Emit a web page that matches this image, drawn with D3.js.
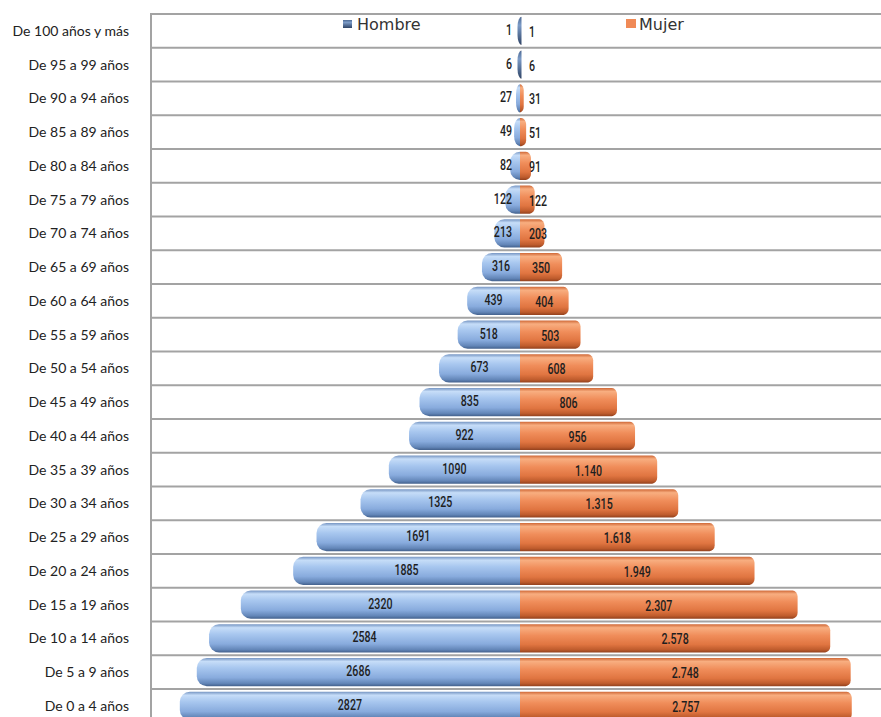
<!DOCTYPE html>
<html><head><meta charset="utf-8">
<script src="https://cdn.jsdelivr.net/npm/d3@7"></script>
<style>
html,body{margin:0;padding:0;background:#fff;}
svg{display:block;}
</style></head>
<body>
<svg id="chart" width="881" height="717"></svg>
<script>
const categories = ["De 100 años y más","De 95 a 99 años","De 90 a 94 años","De 85 a 89 años","De 80 a 84 años","De 75 a 79 años","De 70 a 74 años","De 65 a 69 años","De 60 a 64 años","De 55 a 59 años","De 50 a 54 años","De 45 a 49 años","De 40 a 44 años","De 35 a 39 años","De 30 a 34 años","De 25 a 29 años","De 20 a 24 años","De 15 a 19 años","De 10 a 14 años","De 5 a 9 años","De 0 a 4 años"];
const hombre = [1,6,27,49,82,122,213,316,439,518,673,835,922,1090,1325,1691,1885,2320,2584,2686,2827];
const mujer  = [1,6,31,51,91,122,203,350,404,503,608,806,956,1140,1315,1618,1949,2307,2578,2748,2757];
const seriesNames = ["Hombre","Mujer"];

const svg = d3.select("#chart");
const plotLeft = 151, plotTop = 14, plotRight = 881, rowH = 33.75;
const plotBottom = plotTop + rowH * categories.length;

const y = d3.scaleBand().domain(categories).range([plotTop, plotBottom]).paddingInner(0.17).paddingOuter(0.085);
const x = d3.scaleLinear().domain([-3000, 3000]).range([520 - 361, 520 + 361]);
const x0 = x(0);

const defs = svg.append("defs");
const gb = defs.append("linearGradient").attr("id","gBlue").attr("x1",0).attr("y1",0).attr("x2",0).attr("y2",1);
[[0,"#7897c4"],[0.12,"#c6ddf8"],[0.35,"#a8c7ef"],[0.7,"#88abdd"],[0.9,"#6386b8"],[1,"#44628e"]].forEach(s=>gb.append("stop").attr("offset",s[0]).attr("stop-color",s[1]));
const go = defs.append("linearGradient").attr("id","gOrange").attr("x1",0).attr("y1",0).attr("x2",0).attr("y2",1);
[[0,"#d06a39"],[0.12,"#f8ae80"],[0.4,"#f08d5a"],[0.72,"#e07541"],[0.9,"#bf5c2d"],[1,"#94421e"]].forEach(s=>go.append("stop").attr("offset",s[0]).attr("stop-color",s[1]));
const gd = defs.append("linearGradient").attr("id","gDark").attr("x1",0).attr("y1",0).attr("x2",0).attr("y2",1);
[[0,"#4d6a94"],[0.3,"#7d9cc8"],[1,"#2f4466"]].forEach(s=>gd.append("stop").attr("offset",s[0]).attr("stop-color",s[1]));

// plot border + row lines
const grid = svg.append("g");
grid.selectAll("line.row").data(d3.range(categories.length + 1)).join("line")
  .attr("x1", plotLeft).attr("x2", plotRight)
  .attr("y1", i => plotTop + i * rowH).attr("y2", i => plotTop + i * rowH)
  .attr("stroke", "#a3a3a3").attr("stroke-width", 2);
grid.append("line").attr("x1", plotLeft).attr("x2", plotLeft).attr("y1", plotTop - 1).attr("y2", plotBottom)
  .attr("stroke", "#a3a3a3").attr("stroke-width", 2);

// category labels
svg.append("g").selectAll("text").data(categories).join("text")
  .attr("x", 129).attr("y", d => y(d) + y.bandwidth()/2)
  .attr("dy", "0.35em").attr("text-anchor", "end")
  .attr("font-family", "Lato, 'Open Sans', sans-serif").attr("font-size", 14).attr("fill", "#222")
  .text(d => d);

function leftBar(xl, xr, yt, h){
  const w = Math.max(xr - xl, 4);
  xl = xr - w;
  const r = Math.min(10, w), ry = Math.min(10, h/2);
  return `M${xr},${yt} L${xl+r},${yt} A${r},${ry} 0 0 0 ${xl},${yt+ry} L${xl},${yt+h-ry} A${r},${ry} 0 0 0 ${xl+r},${yt+h} L${xr},${yt+h} Z`;
}
function rightBar(xl, xr, yt, h){
  const w = Math.max(xr - xl, 1);
  xr = xl + w;
  const r = Math.min(5, w), ry = Math.min(6, h/2);
  return `M${xl},${yt} L${xr-r},${yt} A${r},${ry} 0 0 1 ${xr},${yt+ry} L${xr},${yt+h-ry} A${r},${ry} 0 0 1 ${xr-r},${yt+h} L${xl},${yt+h} Z`;
}

const rowsH = categories.map((c,i)=>({c, v: hombre[i]}));
const rowsM = categories.map((c,i)=>({c, v: mujer[i]}));

svg.append("g").selectAll("path").data(rowsM).join("path")
  .attr("d", d => rightBar(x0, x(d.v), y(d.c), y.bandwidth()))
  .attr("fill", "url(#gOrange)");
svg.append("g").selectAll("path").data(rowsH).join("path")
  .attr("d", d => leftBar(x(-d.v), x0 + (d.v < 20 ? 1.5 : 0), y(d.c), y.bandwidth()))
  .attr("fill", d => d.v < 20 ? "url(#gDark)" : "url(#gBlue)");

const fmtM = d3.formatLocale({decimal:",", thousands:".", grouping:[3], currency:["",""]}).format(",d");
const labelFont = "Roboto, 'Open Sans', sans-serif";
const sx = 0.76;

function placeLabels(sel, getX){
  sel.each(function(d){
    const w = this.getComputedTextLength() * sx;
    const px = getX(d, w);
    const py = y(d.c) + y.bandwidth()/2 + d.dy;
    d3.select(this).attr("transform", `translate(${px},${py}) scale(${sx},1)`);
  });
}

const lh = svg.append("g").selectAll("text").data(rowsH.map(d=>({...d, dy:-1}))).join("text")
  .attr("x", 0).attr("y", 0).attr("dy", "0.36em")
  .attr("font-family", labelFont).attr("font-size", 14).attr("font-weight", 500).attr("fill", "#1e1e1e")
  .attr("text-anchor", "middle")
  .text(d => String(d.v));
placeLabels(lh, (d, w) => Math.min((x(-d.v) + x0) / 2, x0 - 8 - w/2));

const lm = svg.append("g").selectAll("text").data(rowsM.map(d=>({...d, dy:1}))).join("text")
  .attr("x", 0).attr("y", 0).attr("dy", "0.36em")
  .attr("font-family", labelFont).attr("font-size", 14).attr("font-weight", 500).attr("fill", "#1e1e1e")
  .attr("text-anchor", "middle")
  .text(d => fmtM(d.v));
placeLabels(lm, (d, w) => Math.max((x(d.v) + x0) / 2, x0 + 9 + w/2));

// legend
const legend = svg.append("g");
legend.append("rect").attr("x", 343).attr("y", 20).attr("width", 9).attr("height", 8).attr("fill", "url(#gDark)");
legend.append("text").attr("x", 357).attr("y", 24).attr("dy","0.35em")
  .attr("font-family", "'DejaVu Sans', sans-serif").attr("font-size", 16).attr("fill", "#333").text(seriesNames[0]);
legend.append("rect").attr("x", 626).attr("y", 19).attr("width", 10).attr("height", 9).attr("fill", "#f08a56");
legend.append("text").attr("x", 639).attr("y", 24).attr("dy","0.35em")
  .attr("font-family", "'DejaVu Sans', sans-serif").attr("font-size", 16).attr("fill", "#333").text(seriesNames[1]);
</script>
</body></html>
